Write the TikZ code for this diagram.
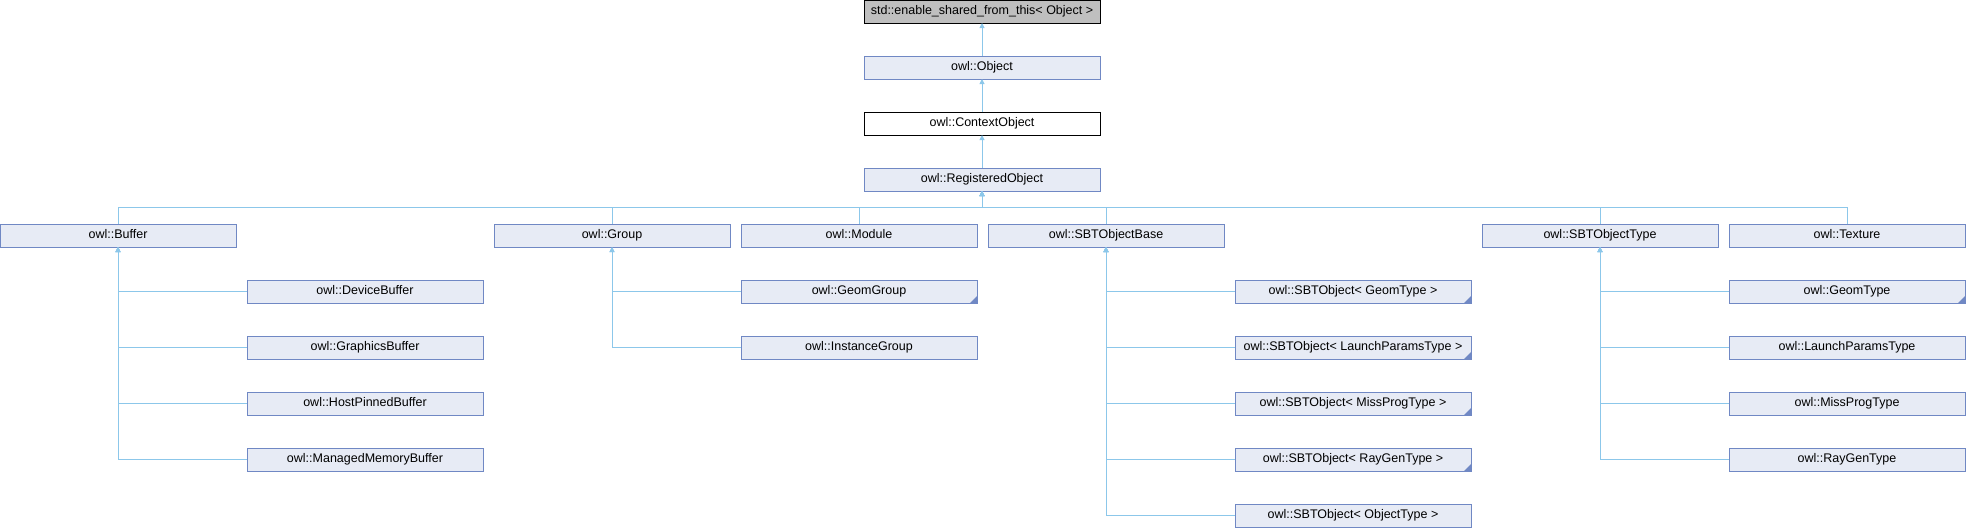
\documentclass[tikz,border=0pt]{standalone}
\usepackage{fontspec}
\setmainfont{Liberation Sans}
\usetikzlibrary{positioning}
\usetikzlibrary{arrows.meta}
\definecolor{nodefill}{HTML}{E7EBF5}
\definecolor{nodeline}{HTML}{7088C4}
\definecolor{linkcol}{HTML}{8CC7EA}
\tikzstyle{klass} = [rectangle, fill=nodefill, draw=nodeline, line width=0.9pt,
inner sep=0pt, outer sep=0pt, minimum width=236pt, minimum height=23pt,
text height=9pt, text depth=2.5pt, font=\fontsize{12.5}{14}\selectfont,
node distance=33pt and 11pt]
\tikzstyle{rootklass} = [klass, fill=gray!50, draw=black]
\tikzstyle{plainklass} = [klass, fill=white, draw=black]
\tikzstyle{link} = [draw=linkcol, line width=0.9pt, -{Triangle[length=5pt,width=5pt]}]
\newcommand{\busedge}[2]{ %
  % children hang from a common bus below the parent
  \foreach \y in {#2} { %
    \path[link] (\y.north) -- ++(0,16.5) -| (#1.south) ;%
  } ;
}
\newcommand{\sideedge}[2]{ %
  % children listed below and to the right of the parent
  \foreach \y in {#2} { %
    \path[link] (\y.west) -| (#1.south) ;%
  } ;
}
\newcommand{\fold}[1]{ %
  \fill[nodeline] (#1.south east) -- ++(-7,0) -- ++(7,7) -- cycle ;%
}

\begin{document}
\begin{tikzpicture}[x=1pt,y=1pt,node distance=33pt and 11pt]
                \useasboundingbox (0,0) rectangle (1966,-528) ;
                \node[rootklass] (shared) at (982,-11.5) {std::enable\_shared\_from\_this< Object >} ; %
                \node[klass, below=of shared] (object) {owl::Object} ; %
                \node[plainklass, below=of object] (ctxobj) {owl::ContextObject} ; %
                \node[klass, below=of ctxobj] (regobj) {owl::RegisteredObject} ; %

                \node[klass, below=of regobj, xshift=-864pt] (buffer) {owl::Buffer} ; %
                \node[klass, right=258pt of buffer] (group) {owl::Group} ; %
                \node[klass, right=of group] (module) {owl::Module} ; %
                \node[klass, right=of module] (sbtbase) {owl::SBTObjectBase} ; %
                \node[klass, right=258pt of sbtbase] (sbttype) {owl::SBTObjectType} ; %
                \node[klass, right=of sbttype] (texture) {owl::Texture} ; %

                \node[klass, below right=of buffer] (devbuf) {owl::DeviceBuffer} ; %
                \node[klass, below=of devbuf] (gfxbuf) {owl::GraphicsBuffer} ; %
                \node[klass, below=of gfxbuf] (pinbuf) {owl::HostPinnedBuffer} ; %
                \node[klass, below=of pinbuf] (mngbuf) {owl::ManagedMemoryBuffer} ; %

                \node[klass, below right=of group] (geomgrp) {owl::GeomGroup} ; %
                \node[klass, below=of geomgrp] (instgrp) {owl::InstanceGroup} ; %

                \node[klass, below right=of sbtbase] (sbtgeom) {owl::SBTObject< GeomType >} ; %
                \node[klass, below=of sbtgeom] (sbtlaunch) {owl::SBTObject< LaunchParamsType >} ; %
                \node[klass, below=of sbtlaunch] (sbtmiss) {owl::SBTObject< MissProgType >} ; %
                \node[klass, below=of sbtmiss] (sbtraygen) {owl::SBTObject< RayGenType >} ; %
                \node[klass, below=of sbtraygen] (sbtobj) {owl::SBTObject< ObjectType >} ; %

                \node[klass, below right=of sbttype] (geomtype) {owl::GeomType} ; %
                \node[klass, below=of geomtype] (launchtype) {owl::LaunchParamsType} ; %
                \node[klass, below=of launchtype] (misstype) {owl::MissProgType} ; %
                \node[klass, below=of misstype] (raygentype) {owl::RayGenType} ; %

                \fold{geomgrp}
                \fold{sbtgeom}
                \fold{sbtlaunch}
                \fold{sbtmiss}
                \fold{sbtraygen}
                \fold{geomtype}

                \path[link] (object.north) -- (shared.south) ;
                \path[link] (ctxobj.north) -- (object.south) ;
                \path[link] (regobj.north) -- (ctxobj.south) ;
                \busedge{regobj}{buffer,group,module,sbtbase,sbttype,texture}
                \sideedge{buffer}{devbuf,gfxbuf,pinbuf,mngbuf}
                \sideedge{group}{geomgrp,instgrp}
                \sideedge{sbtbase}{sbtgeom,sbtlaunch,sbtmiss,sbtraygen,sbtobj}
                \sideedge{sbttype}{geomtype,launchtype,misstype,raygentype}
            \end{tikzpicture}
\end{document}
